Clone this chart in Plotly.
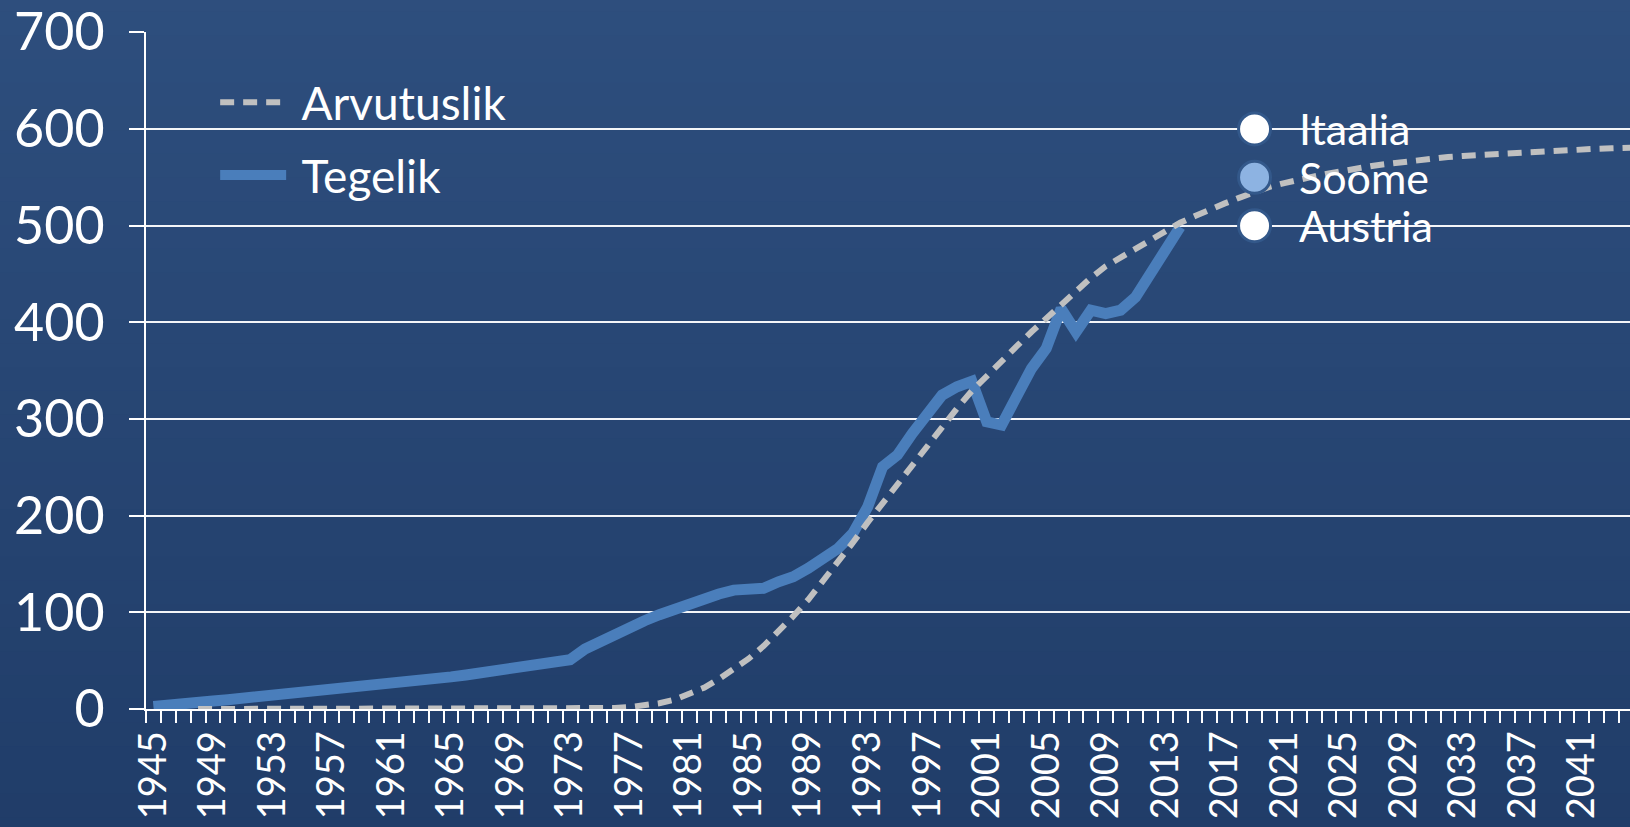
import plotly.graph_objects as go

# ---------------- data ----------------
years_actual = list(range(1945, 2015))
tegelik = [2.5, 4.5, 6, 7.2, 8.3, 9.6, 11, 12.5, 14, 15.5,
           17, 18.7, 20.3, 22, 23.8, 25.2, 26.7, 28.2, 29.5, 31,
           33.2, 35.2, 37.3, 39.2, 41.2, 43.3, 45.5, 47.5, 51, 62,
           70, 77.5, 84.5, 91.3, 97.5, 103, 110, 114.5, 119, 123,
           123.8, 124.8, 131.6, 136.8, 145.5, 154.8, 166, 181.7, 209, 250.6,
           262.7, 285, 305.8, 324.7, 333.3, 339, 297, 293.7, 323, 352,
           373, 414, 390, 412.6, 409, 412.6, 426, 452, 476, 498.7]

years_calc = list(range(1948, 2046))
arvutuslik = [0, 0, 0, 0, 0, 0, 0, 0, 0, 0,
              0, 0, 0, 0, 0, 0, 0, 0, 0, 0,
              0, 0, 0, 0, 0, 0, 0.3, 0.5, 1, 2,
              3.5, 6, 9.5, 15, 22, 31, 41, 52, 65, 80,
              96, 113, 132, 152, 172, 193, 213, 233, 253, 273,
              292, 311, 329, 345, 360, 375, 390, 404, 418, 434,
              446, 458, 467, 477, 486, 494, 503, 510, 517, 523,
              529, 535, 540, 544, 548, 551, 554, 557, 560, 562,
              564, 566, 568, 569, 571, 572, 573, 574, 575, 576,
              577, 578, 578.5, 579, 579.5, 580, 580.5, 581]

country_names = ["Itaalia", "Soome", "Austria"]
country_year = [2019, 2019, 2019]
country_values = [600, 550, 500]
country_colors = ["#ffffff", "#8db3e2", "#ffffff"]

label_years = list(range(1945, 2045, 4))
y_ticks = list(range(0, 701, 100))

FONT = "Lato"

fig = go.Figure()

fig.add_trace(go.Scatter(
    x=years_actual, y=tegelik, mode="lines", name=" Tegelik",
    line=dict(color="#4a7ebb", width=11), legendrank=2, legendgroup="t"))

fig.add_trace(go.Scatter(
    x=years_calc, y=arvutuslik, mode="lines", name=" Arvutuslik",
    line=dict(color="#c0c0c0", width=6, dash="14px,9px"), legendrank=1, legendgroup="a"))

fig.add_trace(go.Scatter(
    x=country_year, y=country_values, mode="markers", showlegend=False,
    marker=dict(size=32, color=country_colors,
                line=dict(color="#33588a", width=3)),
    cliponaxis=False))

for name, xv, yv in zip(country_names, country_year, country_values):
    fig.add_annotation(x=xv, y=yv, text=name, showarrow=False,
                       xanchor="left", yanchor="middle", xshift=42,
                       font=dict(family=FONT, size=43, color="white"))

# background gradient
n_bands = 40
top = (46, 79, 126)
bot = (31, 59, 103)
for i in range(n_bands):
    t = i / (n_bands - 1)
    c = tuple(round(top[k] + (bot[k] - top[k]) * t) for k in range(3))
    fig.add_shape(type="rect", xref="paper", yref="paper",
                  x0=-0.2, x1=1.2,
                  y1=1.1 - i * (1.4 / n_bands), y0=1.1 - (i + 1) * (1.4 / n_bands) - 0.005,
                  fillcolor="rgb(%d,%d,%d)" % c, line=dict(width=0), layer="below")

fig.update_layout(
    width=1630, height=827,
    margin=dict(l=146, r=0, t=32, b=118),
    paper_bgcolor="#284878", plot_bgcolor="rgba(0,0,0,0)",
    font=dict(family=FONT, color="white"),
    showlegend=True,
    legend=dict(x=0.0466, y=0.95, xanchor="left", yanchor="top",
                bgcolor="rgba(0,0,0,0)", font=dict(family=FONT, size=46, color="white"),
                traceorder="grouped", tracegroupgap=10, itemwidth=66),
)

fig.update_yaxes(
    range=[0, 700.3], tickvals=y_ticks, ticktext=[str(v) for v in y_ticks],
    showgrid=True, gridcolor="rgba(255,255,255,0.95)", gridwidth=2,
    showline=True, linecolor="white", linewidth=2,
    ticks="outside", ticklen=15, tickcolor="white", tickwidth=2,
    tickfont=dict(family=FONT, size=52, color="white"),
    ticklabelstandoff=14, ticklabeloverflow="allow",
    zeroline=False, automargin=False,
)

fig.update_xaxes(
    range=[1944.5, 1944.5 + (1630 - 146) / 14.88],
    tickvals=label_years, ticktext=[str(v) for v in label_years],
    tickangle=-90, ticks="", showgrid=False,
    showline=True, linecolor="white", linewidth=2,
    tickfont=dict(family=FONT, size=38, color="white"),
    minor=dict(ticks="outside", ticklen=12, tickcolor="white", tickwidth=1.5,
               tick0=1944.5, dtick=1, showgrid=False),
    ticklabelstandoff=5, ticklabeloverflow="allow",
    zeroline=False, automargin=False,
)

fig.write_html("out.html", config={"displayModeBar": False},
               post_script="document.body.style.margin='0';document.body.style.overflow='hidden';")
